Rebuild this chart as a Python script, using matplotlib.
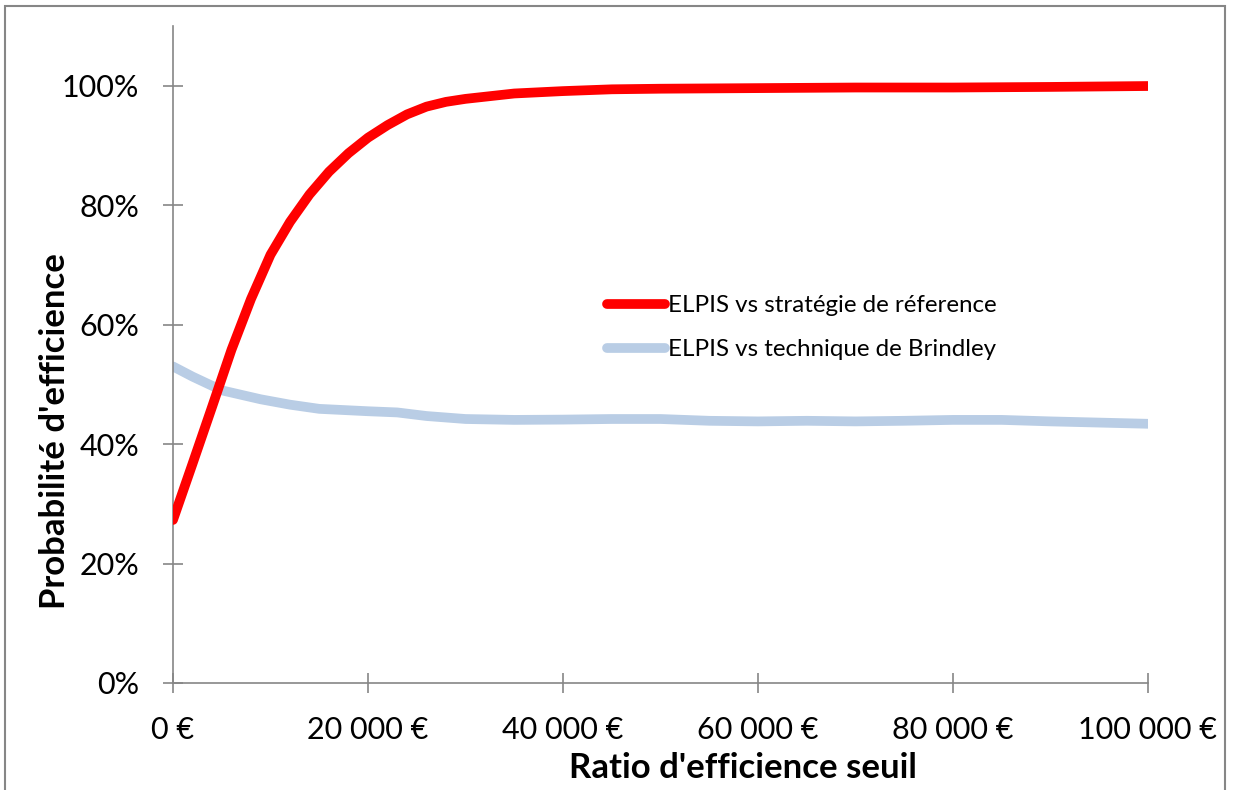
import numpy as np
import matplotlib
matplotlib.use("Agg")
import matplotlib.pyplot as plt
from matplotlib.patches import Rectangle
from matplotlib.ticker import FuncFormatter, MultipleLocator

plt.rcParams['font.family'] = ['Lato', 'DejaVu Sans']

# values
x_ref = [0, 2000, 4000, 6000, 8000, 10000, 12000, 14000, 16000, 18000, 20000,
         22000, 24000, 26000, 28000, 30000, 35000, 40000, 45000, 50000,
         60000, 70000, 80000, 90000, 100000]
p_ref = [0.273, 0.367, 0.462, 0.558, 0.643, 0.717, 0.772, 0.818, 0.856, 0.887, 0.913,
         0.934, 0.952, 0.965, 0.973, 0.978, 0.987, 0.991, 0.994, 0.995,
         0.996, 0.997, 0.997, 0.998, 0.9995]

x_brind = [0, 2000, 5000, 9000, 12000, 15000, 20000, 23000, 26000, 30000, 35000,
           40000, 45000, 50000, 55000, 60000, 65000, 70000, 75000, 80000, 85000,
           90000, 95000, 100000]
p_brind = [0.530, 0.513, 0.490, 0.475, 0.466, 0.459, 0.455, 0.453, 0.447, 0.442, 0.4405,
           0.441, 0.442, 0.442, 0.439, 0.438, 0.439, 0.438, 0.439, 0.4405, 0.4405,
           0.438, 0.436, 0.434]

labels = ["ELPIS vs stratégie de réference", "ELPIS vs technique de Brindley"]

AXIS_GREY = "#868686"

fig = plt.figure(figsize=(12.34, 7.90), dpi=100)
ax = fig.add_axes([173 / 1234, 1 - 683 / 790, 975 / 1234, 657 / 790])

ax.plot(x_ref, p_ref, color="#FF0000", lw=7, solid_capstyle="round",
        solid_joinstyle="round", label=labels[0], zorder=3)
ax.plot(x_brind, p_brind, color="#B9CDE5", lw=7, solid_capstyle="round",
        solid_joinstyle="round", label=labels[1], zorder=2)

ax.set_xlim(0, 100000)
ax.set_ylim(0, 1.1)
ax.xaxis.set_major_locator(MultipleLocator(20000))
ax.set_yticks([0, 0.2, 0.4, 0.6, 0.8, 1.0])
ax.xaxis.set_major_formatter(FuncFormatter(lambda v, p: "{:,.0f} €".format(v).replace(",", " ")))
ax.yaxis.set_major_formatter(FuncFormatter(lambda v, p: "{:.0f}%".format(v * 100)))

for s in ["top", "right"]:
    ax.spines[s].set_visible(False)
for s in ["left", "bottom"]:
    ax.spines[s].set_color(AXIS_GREY)
    ax.spines[s].set_linewidth(1.2)

ax.tick_params(axis="both", direction="inout", length=15, width=1.2,
               color=AXIS_GREY, labelsize=22, labelcolor="black")
ax.tick_params(axis="y", pad=17)
ax.tick_params(axis="x", pad=16)

# axis titles sit where the spreadsheet put them, not centred on the axes
ax.set_xlabel("Ratio d'efficience seuil", fontsize=25, fontweight="bold")
ax.xaxis.set_label_coords((743 - 173) / 975, -(768 - 683) / 657)
ax.xaxis.label.set_verticalalignment("center")
ax.set_ylabel("Probabilité d'efficience", fontsize=25, fontweight="bold")
ax.yaxis.set_label_coords(-(173 - 55) / 975, (683 - 431) / 657)
ax.yaxis.label.set_verticalalignment("center")

leg = ax.legend(loc="upper left", bbox_to_anchor=(607 / 1234, 1 - 295 / 790),
                bbox_transform=fig.transFigure, frameon=False, fontsize=17.4,
                handlelength=2.4, handletextpad=0.12, labelspacing=0.95,
                borderpad=0, borderaxespad=0)
for h in leg.get_lines():
    h.set_solid_capstyle("round")

# grey frame around the whole chart area (bottom edge runs off the image)
fig.patches.append(Rectangle((5 / 1234, -0.05), 1220 / 1234, 1.05 - 6 / 790,
                             transform=fig.transFigure, fill=False,
                             edgecolor=AXIS_GREY, lw=1.5, figure=fig))

fig.savefig("out.png", dpi=100, facecolor="white")
